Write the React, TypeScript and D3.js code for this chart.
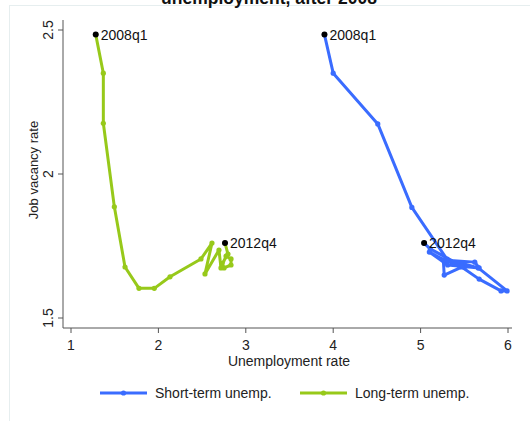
import * as d3 from "d3"

// unemployment rate (x) and job vacancy rate (y), 2008q1 .. 2012q4
const shortTermX = [3.9, 4.0, 4.51, 4.9, 5.3, 5.66, 5.99, 5.92, 5.67, 5.47, 5.27, 5.26, 5.62, 5.67, 5.31, 5.1, 5.27, 5.47, 5.11, 5.04]
const shortTermY = [2.484, 2.35, 2.174, 1.884, 1.705, 1.674, 1.594, 1.594, 1.635, 1.677, 1.649, 1.701, 1.694, 1.674, 1.684, 1.729, 1.701, 1.681, 1.74, 1.76]
const longTermX = [1.283, 1.37, 1.37, 1.496, 1.618, 1.778, 1.953, 2.133, 2.487, 2.613, 2.533, 2.693, 2.716, 2.774, 2.831, 2.831, 2.751, 2.728, 2.796, 2.762]
const longTermY = [2.484, 2.35, 2.176, 1.886, 1.677, 1.603, 1.603, 1.643, 1.705, 1.76, 1.653, 1.736, 1.674, 1.715, 1.705, 1.684, 1.674, 1.688, 1.722, 1.76]

const xTicks = [1, 2, 3, 4, 5, 6]
const yTicks = [1.5, 2, 2.5]
const seriesNames = ["Short-term unemp.", "Long-term unemp."]
const endLabels = ["2008q1", "2012q4"]

const BLUE = "#3a6cff"
const GREEN = "#97c91a"
const FONT = "Arial, 'Liberation Sans', sans-serif"

export default function App() {
  const width = 530
  const height = 421

  const x = d3.scaleLinear().domain([1, 6]).range([71, 508])
  const y = d3.scaleLinear().domain([1.5, 2.5]).range([318, 30])

  const series = [
    { name: seriesNames[0], color: BLUE, pts: shortTermX.map((v, i) => [v, shortTermY[i]] as [number, number]) },
    { name: seriesNames[1], color: GREEN, pts: longTermX.map((v, i) => [v, longTermY[i]] as [number, number]) },
  ]

  const line = d3
    .line<[number, number]>()
    .x((d) => x(d[0]))
    .y((d) => y(d[1]))

  const axisY = 328
  const axisX = 63

  return (
    <svg
      width={width}
      height={height}
      style={{ position: "absolute", left: 0, top: 0, background: "#fff" }}
      fontFamily={FONT}
    >
      <rect x={9.5} y={5.5} width={540} height={430} fill="none" stroke="#e6eeef" />
      <text x={269} y={3.5} textAnchor="middle" fontWeight="bold" fontSize={17.5} fill="#111">
        unemployment, after 2008
      </text>

      {/* axes */}
      <line x1={axisX} x2={axisX} y1={20} y2={axisY} stroke="#555" />
      <line x1={axisX} x2={512} y1={axisY} y2={axisY} stroke="#555" />
      {yTicks.map((t) => (
        <g key={t} transform={`translate(${axisX},${y(t)})`}>
          <line x1={-5} x2={0} stroke="#555" />
          <text transform="rotate(-90)" x={0} y={-10} textAnchor="middle" fontSize={14} fill="#222">
            {t}
          </text>
        </g>
      ))}
      {xTicks.map((t) => (
        <g key={t} transform={`translate(${x(t)},${axisY})`}>
          <line y1={0} y2={5} stroke="#555" />
          <text y={22} textAnchor="middle" fontSize={14} fill="#222">
            {t}
          </text>
        </g>
      ))}
      <text x={289} y={366} textAnchor="middle" fontSize={14} fill="#222">
        Unemployment rate
      </text>
      <text transform="rotate(-90)" x={-170} y={38} textAnchor="middle" fontSize={13} fill="#222">
        Job vacancy rate
      </text>

      {/* series */}
      {series.map((s) => (
        <g key={s.name}>
          <path d={line(s.pts) ?? ""} fill="none" stroke={s.color} strokeWidth={3} strokeLinejoin="round" />
          {s.pts.map((p, i) => (
            <circle key={i} cx={x(p[0])} cy={y(p[1])} r={2.6} fill={s.color} />
          ))}
        </g>
      ))}

      {/* start / end markers */}
      {series.map((s) =>
        [s.pts[0], s.pts[s.pts.length - 1]].map((p, i) => (
          <g key={s.name + i} transform={`translate(${x(p[0])},${y(p[1])})`}>
            <circle r={3} fill="#000" />
            <text x={5} y={5} fontSize={14} fill="#111">
              {endLabels[i]}
            </text>
          </g>
        )),
      )}

      {/* legend */}
      {series.map((s, i) => (
        <g key={"lg" + s.name} transform={`translate(${100 + i * 200},393)`}>
          <line x1={0} x2={47} stroke={s.color} strokeWidth={3} />
          <circle cx={23.5} r={2.6} fill={s.color} />
          <text x={55} y={5} fontSize={14} fill="#222">
            {s.name}
          </text>
        </g>
      ))}
    </svg>
  )
}
